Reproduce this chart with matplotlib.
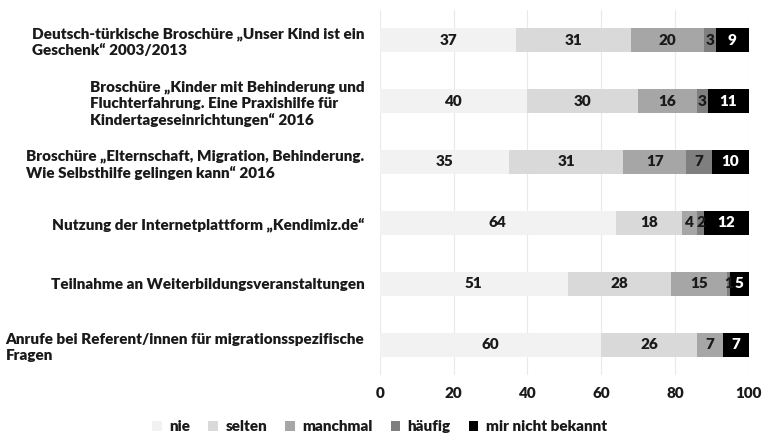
import matplotlib

matplotlib.use("Agg")
import matplotlib.pyplot as plt
import numpy as np

plt.rcParams["font.family"] = ["Lato", "DejaVu Sans"]

categories = [
    "Deutsch-türkische Broschüre „Unser Kind ist ein\nGeschenk“ 2003/2013",
    "Broschüre „Kinder mit Behinderung und\nFluchterfahrung. Eine Praxishilfe für\nKindertageseinrichtungen“ 2016",
    "Broschüre „Elternschaft, Migration, Behinderung.\nWie Selbsthilfe gelingen kann“ 2016",
    "Nutzung der Internetplattform „Kendimiz.de“",
    "Teilnahme an Weiterbildungsveranstaltungen",
    "Anrufe bei Referent/innen für migrationsspezifische\nFragen",
]
series_names = ["nie", "selten", "manchmal", "häufig", "mir nicht bekannt"]
nie = [37, 40, 35, 64, 51, 60]
selten = [31, 30, 31, 18, 28, 26]
manchmal = [20, 16, 17, 4, 15, 7]
haeufig = [3, 3, 7, 2, 1, 0]
nicht_bekannt = [9, 11, 10, 12, 5, 7]

colors = ["#f2f2f2", "#d9d9d9", "#a6a6a6", "#7f7f7f", "#000000"]
text_colors = ["#1a1a1a", "#1a1a1a", "#1a1a1a", "#1a1a1a", "#ffffff"]

fig = plt.figure(figsize=(7.64, 4.34), dpi=100)
ax = fig.add_axes([0.497, 0.135, 0.483, 0.843])

y = np.arange(len(categories))
left = np.zeros(len(categories))
for name, vals, col, tcol in zip(series_names, [nie, selten, manchmal, haeufig, nicht_bekannt], colors, text_colors):
    vals = np.array(vals, dtype=float)
    bars = ax.barh(y, vals, left=left, height=0.38, color=col, label=name, zorder=2)
    for b, v in zip(bars, vals):
        if v > 0:
            ax.text(b.get_x() + b.get_width() / 2, b.get_y() + b.get_height() / 2, f"{int(v)}",
                    ha="center", va="center", fontsize=11, fontweight="heavy", color=tcol, zorder=3)
    left += vals

ax.set_xlim(0, 100)
ax.set_ylim(len(categories) - 0.5, -0.5)
ax.set_xticks(range(0, 101, 20))
ax.set_yticks(y)
ax.set_yticklabels(categories, fontsize=11, fontweight="heavy", color="#1a1a1a",
                   ha="right", multialignment="left", linespacing=1.25)
ax.tick_params(axis="y", length=0, pad=11)
ax.tick_params(axis="x", length=0, labelsize=11, labelcolor="#1a1a1a", pad=8)
for t in ax.get_xticklabels():
    t.set_fontweight("heavy")
ax.xaxis.grid(True, color="#e9e9e9", linewidth=0.8, zorder=0)
ax.set_axisbelow(True)
for s in ax.spines.values():
    s.set_visible(False)

ax.legend(loc="upper center", bbox_to_anchor=(0.0, -0.085), ncol=5, frameon=False,
          handlelength=0.6, handleheight=0.6, handletextpad=0.5, columnspacing=1.2,
          prop={"size": 11, "weight": "heavy"}, labelcolor="#1a1a1a")

fig.savefig("out.png", dpi=100)
